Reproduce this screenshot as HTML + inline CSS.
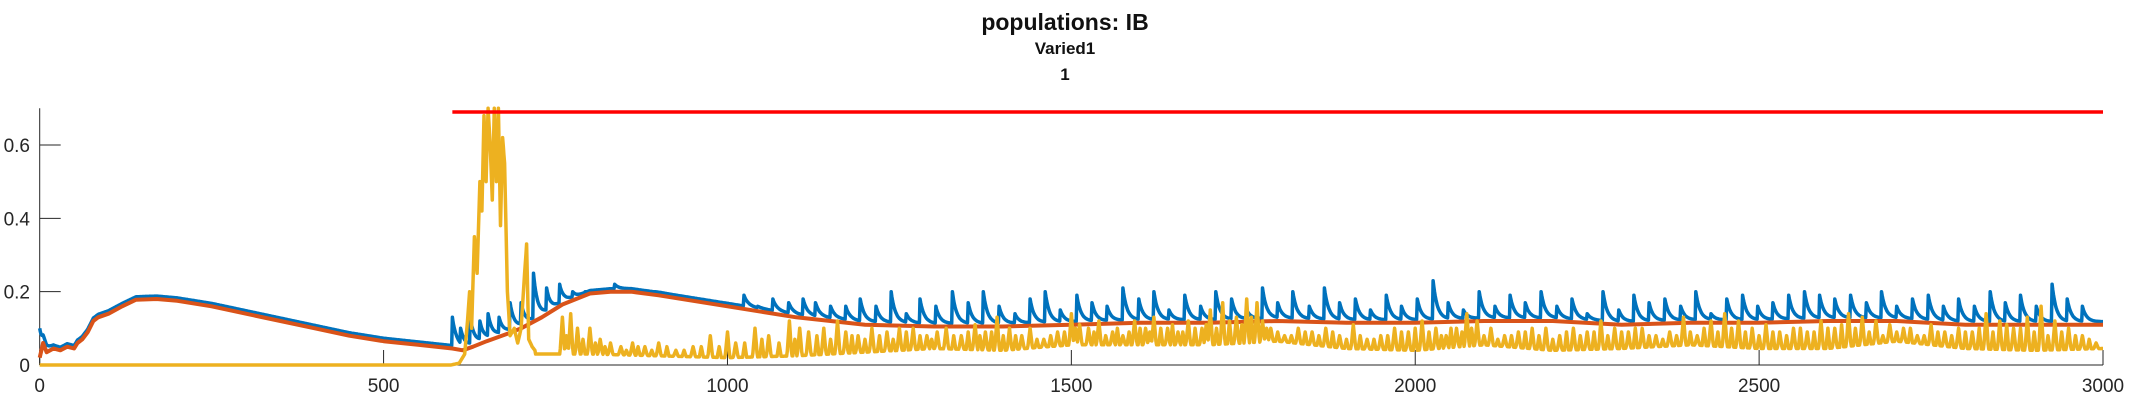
<!DOCTYPE html>
<html><head><meta charset="utf-8">
<style>
html,body{margin:0;padding:0;background:#fff;}
body{width:2133px;height:400px;overflow:hidden;position:relative;font-family:"Liberation Sans","DejaVu Sans",sans-serif;}
svg{position:absolute;left:0;top:0;}
</style></head>
<body>
<svg id="chart" width="2133" height="400" viewBox="0 0 2133 400">
 <text x="1065" y="30" text-anchor="middle" font-size="23" font-weight="bold" fill="#111">populations: IB</text>
 <text x="1065" y="54" text-anchor="middle" font-size="17" font-weight="bold" fill="#111">Varied1</text>
 <text x="1065" y="80" text-anchor="middle" font-size="17" font-weight="bold" fill="#111">1</text>
 <g id="axes"></g>
 <g id="series"></g>
</svg>
<script>
const xTicks=[0,500,1000,1500,2000,2500,3000];
const yTicks=[0,0.2,0.4,0.6];
const yTickLabels=["0","0.2","0.4","0.6"];
const orangeT=[0,5,10,20,30,40,50,55,62,70,78,85,100,120,140,170,200,250,300,350,400,450,500,550,600,615,630,650,680,700,730,760,800,830,860,900,950,1000,1050,1100,1150,1200,1300,1400,1500,1600,1700,1800,1900,2000,2100,2200,2300,2400,2500,2600,2700,2800,2900,3000];
const orangeV=[0.02,0.06,0.035,0.045,0.04,0.05,0.045,0.06,0.07,0.09,0.12,0.13,0.14,0.16,0.178,0.18,0.175,0.16,0.14,0.12,0.1,0.08,0.065,0.055,0.045,0.04,0.05,0.065,0.085,0.1,0.13,0.165,0.195,0.2,0.2,0.19,0.175,0.16,0.145,0.13,0.12,0.11,0.105,0.105,0.11,0.115,0.115,0.12,0.115,0.115,0.12,0.12,0.11,0.115,0.115,0.12,0.12,0.11,0.11,0.11];
const blueT=[0,5,600,612,626,640,652,668,684,700,718,737,756,775,793,812,836,858,875,893,910,930,948,968,985,1003,1024,1044,1066,1089,1110,1128,1150,1172,1193,1216,1238,1260,1280,1303,1327,1350,1372,1395,1418,1440,1462,1484,1508,1530,1552,1575,1598,1620,1642,1665,1688,1710,1733,1755,1778,1800,1822,1846,1868,1890,1913,1935,1958,1980,2003,2026,2048,2070,2093,2116,2138,2160,2183,2206,2228,2250,2273,2296,2318,2340,2363,2386,2408,2430,2453,2476,2498,2520,2543,2566,2588,2610,2633,2656,2678,2700,2723,2746,2768,2790,2813,2836,2858,2880,2903,2926,2948,2970];
const blueV=[0.1,0.07,0.13,0.1,0.13,0.12,0.14,0.13,0.17,0.17,0.25,0.21,0.22,0.2,0.2,0.2,0.22,0.2,0.19,0.2,0.17,0.18,0.16,0.15,0.17,0.13,0.19,0.16,0.18,0.17,0.18,0.17,0.16,0.16,0.18,0.16,0.2,0.14,0.18,0.16,0.2,0.17,0.2,0.16,0.14,0.18,0.2,0.15,0.19,0.17,0.16,0.21,0.18,0.2,0.15,0.19,0.16,0.2,0.18,0.15,0.21,0.17,0.2,0.16,0.21,0.17,0.18,0.15,0.19,0.16,0.18,0.23,0.17,0.15,0.2,0.16,0.19,0.17,0.2,0.16,0.18,0.14,0.2,0.15,0.19,0.17,0.18,0.16,0.2,0.14,0.18,0.19,0.16,0.17,0.19,0.2,0.19,0.18,0.19,0.17,0.2,0.16,0.18,0.19,0.16,0.18,0.16,0.2,0.17,0.19,0.16,0.22,0.18,0.16];
const yelBurstT=[0,598,610,618,622,625,628,632,636,640,643,646,649,652,655,658,661,664,667,670,673,676,680,684,690,695,700,705,708,711,716,720];
const yelBurstV=[0,0,0.005,0.03,0.12,0.2,0.1,0.35,0.25,0.5,0.42,0.68,0.5,0.7,0.6,0.45,0.7,0.5,0.7,0.38,0.62,0.55,0.2,0.08,0.1,0.06,0.1,0.25,0.33,0.07,0.05,0.04];
const yelBaseT=[720,800,900,1000,1100,1200,1300,1400,1500,1600,1700,1800,1900,2000,2100,2200,2300,2400,2500,2600,2700,2800,2900,3000];
const yelBaseV=[0.03,0.03,0.025,0.02,0.025,0.035,0.045,0.04,0.055,0.055,0.055,0.065,0.045,0.04,0.055,0.04,0.045,0.055,0.045,0.045,0.065,0.045,0.04,0.045];
const yelSpikeT=[760,772,782,800,815,830,845,862,880,900,925,950,975,1000,1012,1040,1060,1090,1105,1118,1140,1160,1172,1190,1210,1232,1250,1270,1290,1305,1318,1340,1360,1375,1392,1410,1428,1440,1460,1480,1500,1512,1525,1540,1560,1575,1592,1608,1620,1640,1655,1670,1690,1702,1720,1740,1755,1770,1778,1790,1810,1830,1850,1870,1890,1910,1930,1950,1970,1990,2010,2030,2045,2060,2075,2090,2110,2130,2150,2170,2190,2210,2230,2250,2270,2290,2310,2330,2350,2370,2390,2410,2430,2450,2470,2490,2510,2530,2550,2570,2590,2610,2630,2650,2670,2690,2710,2730,2750,2770,2790,2810,2830,2850,2870,2890,2910,2930,2950,2970,2990];
const yelSpikeV=[0.13,0.14,0.1,0.1,0.07,0.06,0.05,0.06,0.05,0.06,0.04,0.05,0.08,0.09,0.06,0.1,0.08,0.12,0.1,0.09,0.1,0.12,0.09,0.08,0.1,0.09,0.1,0.1,0.08,0.09,0.1,0.08,0.11,0.09,0.13,0.1,0.08,0.1,0.07,0.09,0.14,0.11,0.1,0.12,0.09,0.08,0.12,0.1,0.13,0.1,0.09,0.12,0.1,0.15,0.17,0.13,0.18,0.17,0.12,0.1,0.08,0.1,0.09,0.1,0.08,0.11,0.07,0.08,0.1,0.09,0.12,0.1,0.08,0.1,0.14,0.12,0.1,0.08,0.09,0.1,0.1,0.08,0.1,0.09,0.12,0.1,0.09,0.1,0.08,0.09,0.13,0.08,0.12,0.14,0.12,0.1,0.11,0.09,0.1,0.09,0.12,0.1,0.14,0.13,0.12,0.11,0.1,0.08,0.11,0.09,0.1,0.09,0.14,0.12,0.1,0.13,0.16,0.12,0.1,0.08,0.06];
const yelSpike2T=[766,790,808,822,853,870,890,912,937,962,988,1025,1050,1075,1098,1130,1150,1181,1200,1221,1241,1260,1280,1297,1329,1350,1367,1384,1401,1419,1450,1470,1490,1506,1533,1550,1567,1584,1600,1614,1630,1647,1662,1680,1696,1711,1730,1748,1762,1784,1800,1820,1840,1860,1880,1900,1920,1940,1960,1980,2000,2020,2038,2052,2068,2082,2100,2120,2140,2160,2180,2200,2220,2240,2260,2280,2300,2320,2340,2360,2380,2400,2420,2440,2460,2480,2500,2520,2540,2560,2580,2600,2620,2640,2660,2680,2700,2720,2740,2760,2780,2800,2820,2840,2860,2880,2900,2920,2940,2960,2980];
const yelSpike2V=[0.08,0.07,0.06,0.05,0.04,0.05,0.04,0.05,0.04,0.05,0.05,0.06,0.07,0.06,0.07,0.08,0.07,0.08,0.07,0.08,0.07,0.09,0.08,0.07,0.08,0.09,0.08,0.09,0.08,0.08,0.07,0.08,0.09,0.1,0.09,0.08,0.1,0.09,0.1,0.09,0.1,0.11,0.09,0.1,0.11,0.1,0.12,0.11,0.13,0.1,0.09,0.08,0.09,0.08,0.09,0.07,0.08,0.07,0.08,0.09,0.1,0.09,0.08,0.1,0.09,0.1,0.08,0.07,0.08,0.09,0.08,0.07,0.09,0.08,0.09,0.08,0.09,0.1,0.08,0.07,0.08,0.09,0.1,0.09,0.1,0.09,0.08,0.09,0.08,0.1,0.09,0.1,0.11,0.1,0.09,0.08,0.09,0.1,0.08,0.09,0.08,0.09,0.1,0.09,0.11,0.1,0.09,0.08,0.09,0.08,0.07];
const redLevel=0.69, redStart=600, redEnd=3000;

const X0=39.7,X1=2103,Y0=365,YTOP=108.3,XMAX=3000,YMAX=0.7;
const sx=t=>X0+(t/XMAX)*(X1-X0);
const sy=v=>Y0-(v/YMAX)*(Y0-YTOP);
const NS="http://www.w3.org/2000/svg";
const axes=document.getElementById('axes'),ser=document.getElementById('series');
function mk(tag,attrs,parent){const e=document.createElementNS(NS,tag);for(const k in attrs)e.setAttribute(k,attrs[k]);parent.appendChild(e);return e;}
function interp(T,V,t){if(t<=T[0])return V[0];for(let i=1;i<T.length;i++){if(t<=T[i]){const f=(t-T[i-1])/(T[i]-T[i-1]);return V[i-1]+f*(V[i]-V[i-1]);}}return V[V.length-1];}

let a=mk('line',{x1:X0,y1:YTOP,x2:X0,y2:Y0,stroke:'#262626','stroke-width':1},axes);


a=mk('line',{x1:X0,y1:Y0,x2:X1,y2:Y0,stroke:'#262626','stroke-width':1},axes);


xTicks.forEach(t=>{
 const l=mk('line',{x1:sx(t),y1:Y0,x2:sx(t),y2:Y0-15,stroke:'#262626','stroke-width':1},axes);
 
 
 const tx=mk('text',{x:sx(t),y:392,'text-anchor':'middle','font-size':19,fill:'#262626'},axes);
 tx.textContent=t;
 
 
});
yTicks.forEach((v,i)=>{
 const l=mk('line',{x1:X0,y1:sy(v),x2:X0+21,y2:sy(v),stroke:'#262626','stroke-width':1},axes);
 
 
 const tx=mk('text',{x:30,y:sy(v)+7,'text-anchor':'end','font-size':19,fill:'#262626'},axes);
 tx.textContent=yTickLabels[i];
 
 
});

function addSpikes(T,V,t,v,w){for(let i=0;i<T.length;i++){const d=Math.abs(t-T[i]);if(d<w){const s=v+(V[i]-v)*(1-d/w);if(s>v)v=s;}}return v;}
let yp=[];
for(let t=0;t<=3000;t+=1){
 let v;
 if(t<=720)v=interp(yelBurstT,yelBurstV,t);
 else{const b=interp(yelBaseT,yelBaseV,t);v=b;
  v=addSpikes(yelSpikeT,yelSpikeV,t,v,3.5);
  v=Math.max(v,addSpikes(yelSpike2T,yelSpike2V,t,b,3));}
 yp.push(sx(t).toFixed(1)+','+sy(v).toFixed(1));
}
let bp=[];
for(let t=0;t<=3000;t+=1){
 const base=interp(orangeT,orangeV,t)+0.008;
 let v=base;
 for(let i=0;i<blueT.length;i++){const d=t-blueT[i];if(d>=0&&d<50){const s=base+(blueV[i]-base)*Math.exp(-d/6);if(s>v)v=s;}}
 bp.push(sx(t).toFixed(1)+','+sy(v).toFixed(1));
}
const blue=mk('polyline',{points:bp.join(' '),fill:'none',stroke:'#0072BD','stroke-width':3.5,'stroke-linejoin':'round'},ser);


const op=orangeT.map((t,i)=>sx(t).toFixed(1)+','+sy(orangeV[i]).toFixed(1));
const orange=mk('polyline',{points:op.join(' '),fill:'none',stroke:'#D95319','stroke-width':4,'stroke-linejoin':'round'},ser);


const yel=mk('polyline',{points:yp.join(' '),fill:'none',stroke:'#EDB120','stroke-width':3.5,'stroke-linejoin':'round'},ser);


const red=mk('line',{x1:sx(redStart),y1:sy(redLevel),x2:sx(redEnd),y2:sy(redLevel),stroke:'#FF0000','stroke-width':3.5},ser);


</script>
</body></html>
